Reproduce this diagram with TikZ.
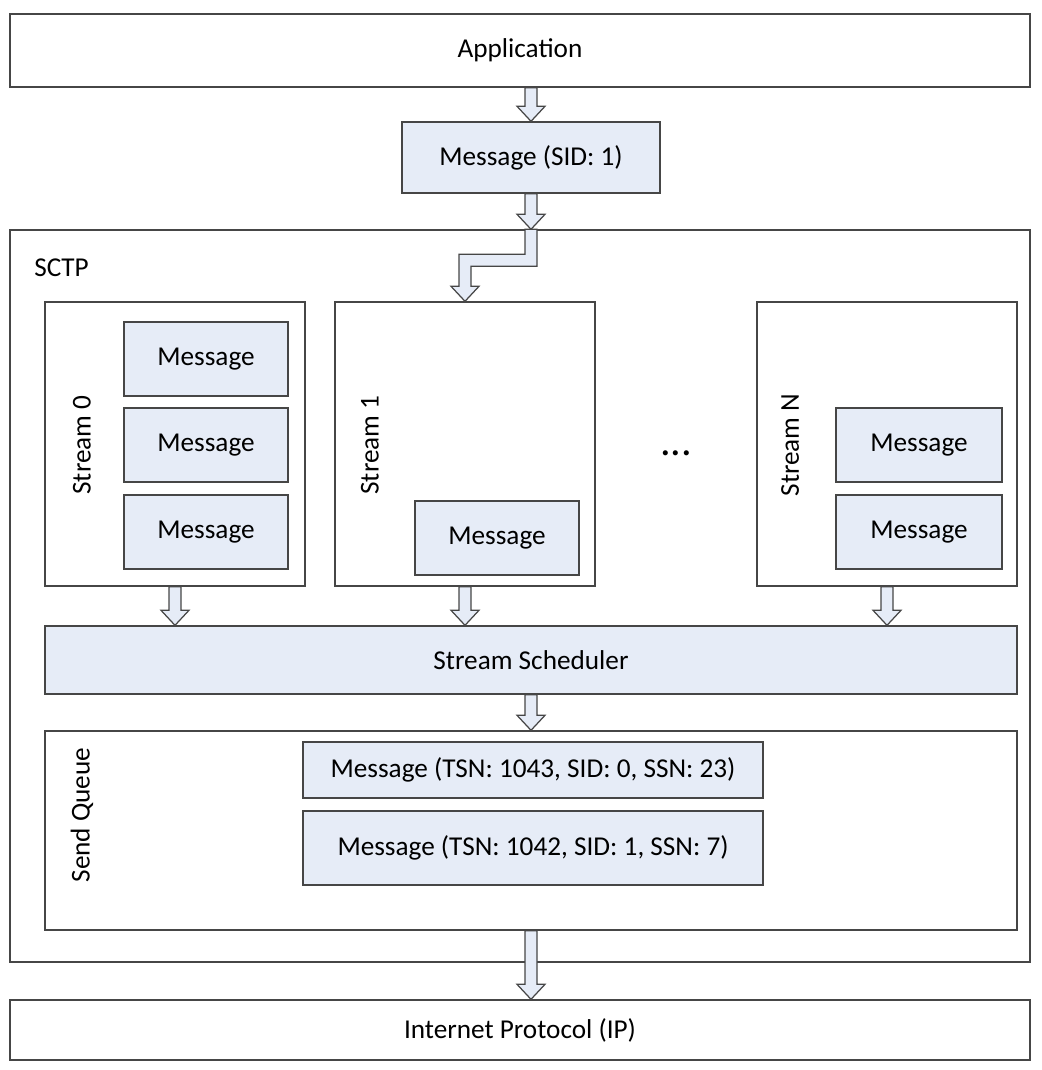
\documentclass[tikz,border=0pt]{standalone}
\usepackage{fontspec}
\setmainfont{Carlito}
\usepackage{xcolor}
\usetikzlibrary{calc,positioning}

\definecolor{boxfill}{RGB}{230,236,247}
\definecolor{boxline}{RGB}{70,70,70}

\tikzset{
    box/.style={draw=boxline, line width=0.8pt, inner sep=0pt, font=\fontsize{15.5}{18}\selectfont},
    bluebox/.style={box, fill=boxfill},
    sz/.style 2 args={minimum width=#1*0.02cm, minimum height=#2*0.02cm},
    blockarr/.style={draw=boxline, line width=0.7pt, fill=boxfill, line join=miter},
    lbl/.style={font=\fontsize{15.5}{18}\selectfont, inner sep=0pt}
}

% hollow block arrow from #1 down to #2
\newcommand{\blockarrow}[2]{
    \draw[blockarr] ($(#1)+(-6,0)$) -- ($(#2)+(-6,-15)$) -- ($(#2)+(-14,-15)$) -- (#2)
        -- ($(#2)+(14,-15)$) -- ($(#2)+(6,-15)$) -- ($(#1)+(6,0)$) -- cycle;
}

\begin{document}
\begin{tikzpicture}[x=0.02cm, y=-0.02cm]
    \useasboundingbox (0,0) rectangle (1041,1070);

    \node[box, sz={1020}{73}] (app) at (520,50.5) {Application};
    \node[bluebox, sz={258}{71}] (msg) at (531,157.5) {Message (SID: 1)};

    \node[box, sz={1020}{732}] (sctp) at (520,596) {};
    \node[lbl, anchor=west] (sctplbl) at (34,268) {SCTP};

    % streams
    \begin{scope}[shift={(0,0)}]
        \node[box, sz={260}{284}] (s0) at (175,444) {};
        \node[lbl, rotate=90] (s0lbl) at (82,445) {Stream 0};
        \node[bluebox, sz={164}{74}] (s0a) at (206,359) {Message};
        \node[bluebox, sz={164}{74}] (s0b) at (206,445) {Message};
        \node[bluebox, sz={164}{74}] (s0c) at (206,532) {Message};
    \end{scope}
    \begin{scope}[shift={(0,0)}]
        \node[box, sz={260}{284}] (s1) at (465,444) {};
        \node[lbl, rotate=90] (s1lbl) at (370,445) {Stream 1};
        \node[bluebox, sz={164}{74}] (s1a) at (497,538) {Message};
    \end{scope}
    \node[lbl, font=\fontsize{24}{28}\selectfont, anchor=base] (dots) at (676,456) {...};
    \begin{scope}[shift={(0,0)}]
        \node[box, sz={260}{284}] (sn) at (887,444) {};
        \node[lbl, rotate=90] (snlbl) at (790,445) {Stream N};
        \node[bluebox, sz={166}{74}] (sna) at (919,445) {Message};
        \node[bluebox, sz={166}{74}] (snb) at (919,532) {Message};
    \end{scope}

    \node[bluebox, sz={972}{68}] (sched) at (531,660) {Stream Scheduler};

    \node[box, sz={972}{199}] (sendq) at (531,830.5) {};
    \node[lbl, rotate=90] (sqlbl) at (82,815) {Send Queue};
    \node[bluebox, sz={460}{56}] (q1) at (533,770) {Message (TSN: 1043, SID: 0, SSN: 23)};
    \node[bluebox, sz={460}{74}] (q2) at (533,848) {Message (TSN: 1042, SID: 1, SSN: 7)};

    \node[box, sz={1020}{60}] (ip) at (520,1030) {Internet Protocol (IP)};

    % block arrows
    \blockarrow{app.south -| msg}{msg.north}
    \blockarrow{msg.south}{sctp.north -| msg}
    \draw[blockarr] ($(sctp.north -| msg)+(-6,0)$) -- ($(sctp.north -| msg)+(-6,25)$)
        -- ($(s1.north)+(-6,-47)$) -- ($(s1.north)+(-6,-15)$) -- ($(s1.north)+(-14,-15)$)
        -- (s1.north) -- ($(s1.north)+(14,-15)$) -- ($(s1.north)+(6,-15)$)
        -- ($(s1.north)+(6,-35)$) -- ($(sctp.north -| msg)+(6,37)$)
        -- ($(sctp.north -| msg)+(6,0)$) -- cycle;
    \blockarrow{s0.south}{sched.north -| s0}
    \blockarrow{s1.south}{sched.north -| s1}
    \blockarrow{sn.south}{sched.north -| sn}
    \blockarrow{sched.south -| msg}{sendq.north -| msg}
    \blockarrow{sendq.south -| msg}{ip.north -| msg}
\end{tikzpicture}
\end{document}
